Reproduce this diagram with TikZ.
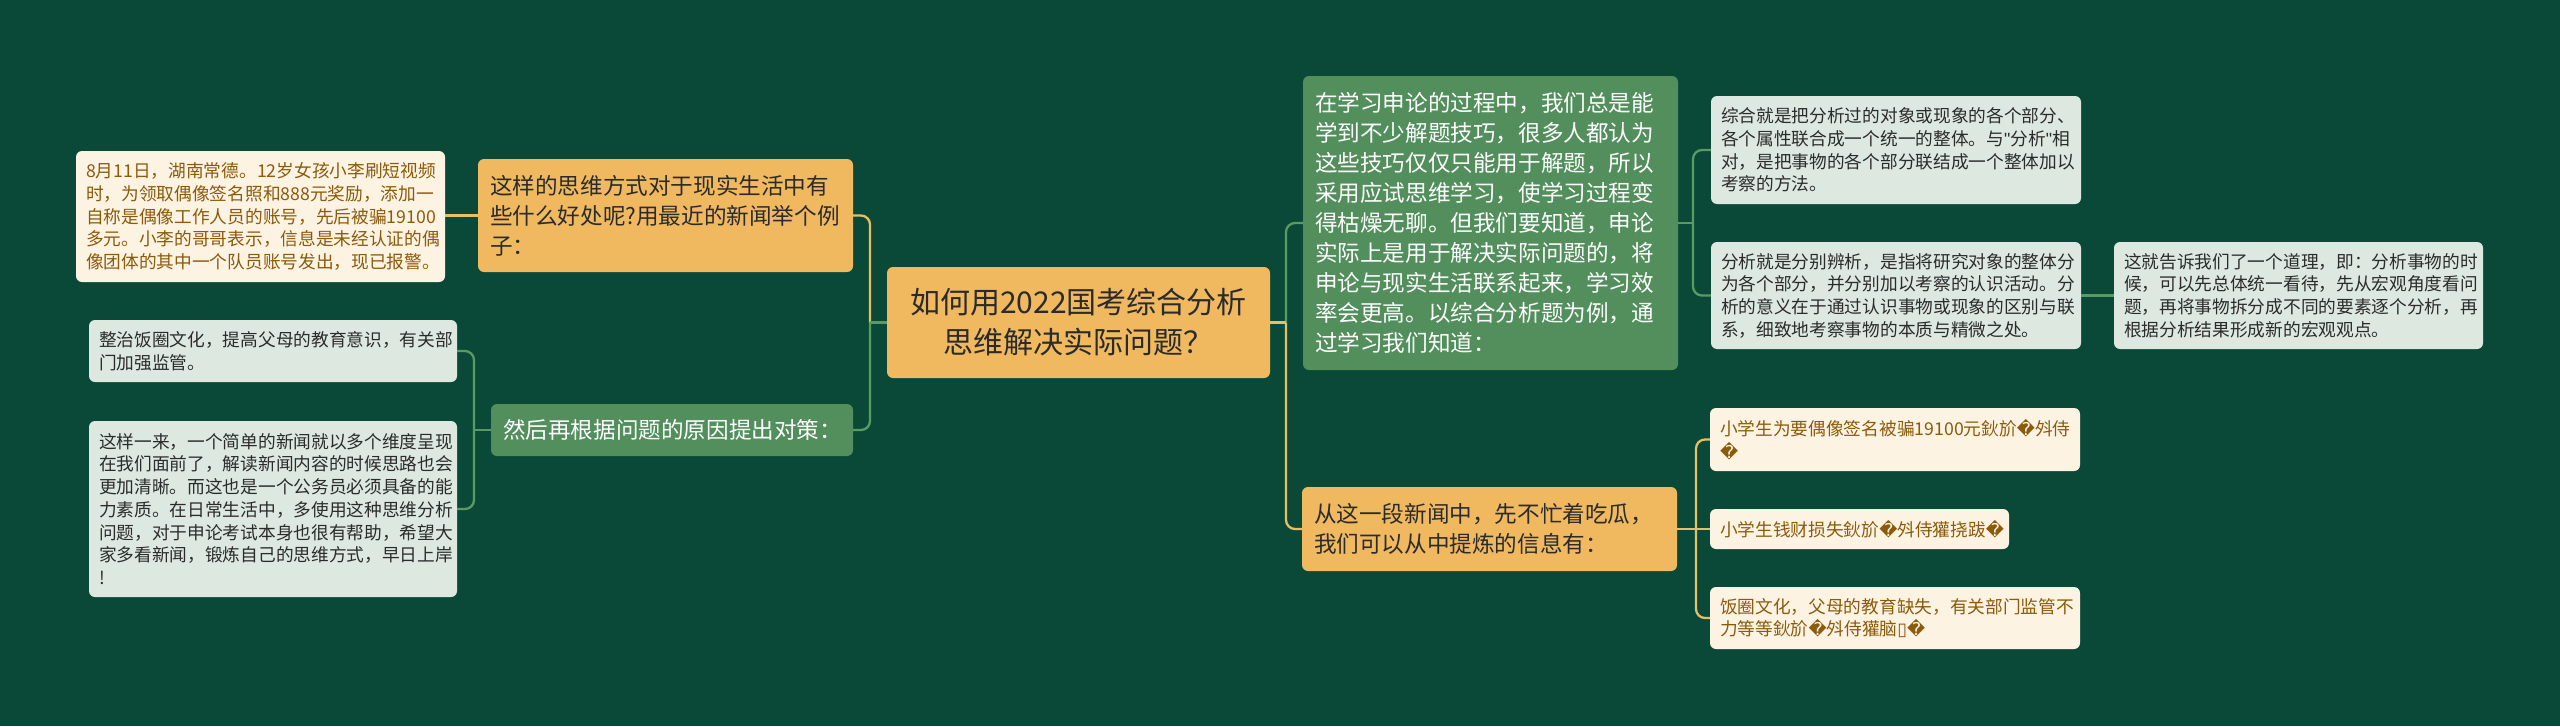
\documentclass[tikz,border=0pt]{standalone}
\usepackage{fontspec}
\setmainfont{Noto Sans CJK SC}
\newfontfamily\dvfont{DejaVu Sans}
\newfontfamily\qfont{Liberation Sans}
\newcommand\rpl{{\dvfont\symbol{"FFFD}}}
\newcommand\tofu{{\dvfont\symbol{"25AF}}}
\newcommand\sq{{\qfont\symbol{"22}}}
\definecolor{bgc}{HTML}{0A4937}
\definecolor{orangec}{HTML}{F0B960}
\definecolor{greenc}{HTML}{528F5C}
\definecolor{lightc}{HTML}{DDE9E0}
\definecolor{creamc}{HTML}{FDF3E3}
\definecolor{brownc}{HTML}{8B5A0A}
\definecolor{darkc}{HTML}{2B2B2B}
\definecolor{olinec}{HTML}{E6BE63}
\definecolor{glinec}{HTML}{5A9B63}
\tikzset{
  nbox/.style={rounded corners=6pt, inner ysep=0pt, align=left},
  cream/.style={nbox, fill=creamc, text=brownc, font=\fontsize{17.7}{22.7}\selectfont, inner xsep=10pt},
  light/.style={nbox, fill=lightc, text=darkc, font=\fontsize{17.7}{22.7}\selectfont, inner xsep=10pt},
  orng/.style={nbox, fill=orangec, text=darkc, font=\fontsize{22.6}{30}\selectfont, inner xsep=12pt},
  grn/.style={nbox, fill=greenc, text=white, font=\fontsize{22.6}{30}\selectfont, inner xsep=12pt},
  oline/.style={draw=olinec, line width=2.3pt},
  gline/.style={draw=glinec, line width=2.3pt},
}
\begin{document}
\begin{tikzpicture}[x=1pt,y=-1pt]
\fill[bgc] (0,0) rectangle (2560,726);
\useasboundingbox (0,0) rectangle (2560,726);

% centre
\node[nbox, fill=orangec, text=darkc, align=center, font=\fontsize{30}{40}\selectfont,
  inner xsep=12pt, text width=359pt, minimum height=111pt] (ctr) at (1078.5,322.5)
  {如何用2022国考综合分析\\思维解决实际问题？};

% left side
\node[orng, text width=351pt, minimum height=113pt] (O1) at (665.5,215.5)
  {这样的思维方式对于现实生活中有\\些什么好处呢?用最近的新闻举个例\\子：};
\node[cream, text width=349pt, minimum height=131pt] (A) at (260.5,216.5)
  {8月11日，湖南常德。12岁女孩小李刷短视频\\时，为领取偶像签名照和888元奖励，添加一\\自称是偶像工作人员的账号，先后被骗19100\\多元。小李的哥哥表示，信息是未经认证的偶\\像团体的其中一个队员账号发出，现已报警。};
\node[grn, text width=338pt, minimum height=52pt] (G1) at (672,430)
  {然后再根据问题的原因提出对策：};
\node[light, text width=348pt, minimum height=62pt] (B) at (273,351)
  {整治饭圈文化，提高父母的教育意识，有关部\\门加强监管。};
\node[light, text width=348pt, minimum height=176pt] (C) at (273,509)
  {这样一来，一个简单的新闻就以多个维度呈现\\在我们面前了，解读新闻内容的时候思路也会\\更加清晰。而这也是一个公务员必须具备的能\\力素质。在日常生活中，多使用这种思维分析\\问题，对于申论考试本身也很有帮助，希望大\\家多看新闻，锻炼自己的思维方式，早日上岸\\!};

% right side
\node[grn, text width=351pt, minimum height=294pt] (G2) at (1490.5,223)
  {在学习申论的过程中，我们总是能\\学到不少解题技巧，很多人都认为\\这些技巧仅仅只能用于解题，所以\\采用应试思维学习，使学习过程变\\得枯燥无聊。但我们要知道，申论\\实际上是用于解决实际问题的，将\\申论与现实生活联系起来，学习效\\率会更高。以综合分析题为例，通\\过学习我们知道：};
\node[light, text width=350pt, minimum height=108pt] (D) at (1896,150)
  {综合就是把分析过的对象或现象的各个部分、\\各个属性联合成一个统一的整体。与\sq 分析\sq 相\\对，是把事物的各个部分联结成一个整体加以\\考察的方法。};
\node[light, text width=350pt, minimum height=107pt] (E) at (1896,295.5)
  {分析就是分别辨析，是指将研究对象的整体分\\为各个部分，并分别加以考察的认识活动。分\\析的意义在于通过认识事物或现象的区别与联\\系，细致地考察事物的本质与精微之处。};
\node[light, text width=349pt, minimum height=107pt] (F) at (2298.5,295.5)
  {这就告诉我们了一个道理，即：分析事物的时\\候，可以先总体统一看待，先从宏观角度看问\\题，再将事物拆分成不同的要素逐个分析，再\\根据分析结果形成新的宏观观点。};
\node[orng, text width=351pt, minimum height=84pt] (O2) at (1489.5,529)
  {从这一段新闻中，先不忙着吃瓜，\\我们可以从中提炼的信息有：};
\node[cream, text width=350pt, minimum height=63pt] (H1) at (1895,439.5)
  {小学生为要偶像签名被骗19100元鈥斺\rpl 斘侍\\\rpl};
\node[cream, text width=279pt, minimum height=40pt] (H2) at (1859.5,529)
  {小学生钱财损失鈥斺\rpl 斘侍獾挠跋\rpl};
\node[cream, text width=350pt, minimum height=62pt] (H3) at (1895,618)
  {饭圈文化，父母的教育缺失，有关部门监管不\\力等等鈥斺\rpl 斘侍獾脑\tofu\rpl};

% junctions
\coordinate (jl) at (870,322.5);
\coordinate (jg) at (474,430);
\coordinate (jr) at (1286,322.5);
\coordinate (j2) at (1693,223);
\coordinate (j3) at (1696,529);

% connectors
\draw[oline, rounded corners=9pt] (jl) |- (O1.east);
\draw[gline, rounded corners=9pt] (jl) |- (G1.east);
\draw[gline] (ctr.west) -- (jl);
\draw[oline] (O1.west) -- (O1.west -| A.east);
\draw[gline] (G1.west) -- (jg);
\draw[gline, rounded corners=9pt] (jg) |- (B.east);
\draw[gline, rounded corners=9pt] (jg) |- (C.east);

\draw[gline, rounded corners=9pt] (jr) |- (G2.west);
\draw[oline, rounded corners=9pt] (jr) |- (O2.west);
\draw[oline] (ctr.east) -- (jr);

\draw[gline] (G2.east) -- (j2);
\draw[gline, rounded corners=9pt] (j2) |- (D.west);
\draw[gline, rounded corners=9pt] (j2) |- (E.west);
\draw[gline] (E.east) -- (F.west);

\draw[oline] (O2.east) -- (j3);
\draw[oline, rounded corners=9pt] (j3) |- (H1.west);
\draw[oline] (j3) -- (H2.west);
\draw[oline, rounded corners=9pt] (j3) |- (H3.west);
\end{tikzpicture}
\end{document}
